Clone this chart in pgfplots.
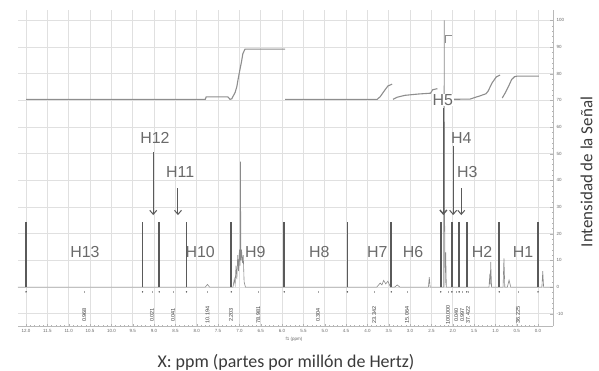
\documentclass[border=0pt]{standalone}
\usepackage{fontspec}
\setmainfont{Liberation Sans}
\newfontfamily\calfont{Carlito}
\usepackage{pgfplots}
\pgfplotsset{compat=1.18}
\usetikzlibrary{arrows.meta}
\definecolor{gridc}{HTML}{E0E0E0}
\definecolor{specc}{HTML}{8A8A8A}
\definecolor{markc}{HTML}{5A5A5A}
\definecolor{intc}{HTML}{8E8E8E}
\definecolor{labc}{HTML}{6A6A6A}
\definecolor{txtc}{HTML}{3A3A3A}
\begin{document}
\begin{tikzpicture}
\begin{axis}[
  scale only axis, width=535bp, height=316bp,
  x dir=reverse, xmin=-0.35, xmax=12.19, ymin=-14.6, ymax=103.9,
  axis x line*=bottom, axis y line*=right,
  axis line style={draw=gray!55, line width=0.5pt, -},
  xtick={0,0.5,...,12}, ytick={-10,0,...,100},
  minor x tick num=4, minor y tick num=4,
  major tick length=2.5bp, minor tick length=1.2bp,
  tick style={gray!60, line width=0.4pt},
  grid=major, major grid style={gridc, line width=0.6pt},
  /pgf/number format/assume math mode=true,
  xticklabel style={font=\fontsize{4.5}{5}\selectfont, text=gray!80!black,
    /pgf/number format/.cd, fixed, fixed zerofill, precision=1},
  yticklabel style={font=\fontsize{4.5}{5}\selectfont, text=gray!80!black},
  clip=false,
]
% spectrum
\addplot[specc, line width=0.6bp] coordinates {
 (12.19,0) (7.80,0) (7.75,1.0) (7.70,0)
 (7.15,0) (7.12,3) (7.10,1) (7.08,8) (7.06,3) (7.04,12) (7.02,6) (7.00,14) (6.985,8) (6.975,47) (6.965,10) (6.95,14) (6.93,9) (6.91,12) (6.89,2) (6.86,0)
 (3.78,0) (3.70,1.5) (3.66,0.8) (3.62,2.5) (3.57,1.2) (3.52,2.2) (3.46,0)
 (3.36,0) (3.30,0.8) (3.24,0)
 (2.57,0) (2.55,3.7) (2.53,0)
 (2.215,0) (2.20,100) (2.185,0) (2.165,13) (2.15,0)
 (1.15,0) (1.13,5) (1.12,1) (1.11,9.4) (1.09,0)
 (0.82,0) (0.80,10.8) (0.78,0) (0.72,0) (0.68,2.6) (0.64,0)
 (-0.09,0) (-0.11,6) (-0.13,0) (-0.35,0)
};
% integration region markers
\addplot[markc, line width=1.7bp, ycomb] coordinates {
 (12.0,24.4) (9.27,24.4) (8.88,24.4) (8.24,24.4) (7.19,24.4) (5.95,24.4)
 (4.47,24.4) (3.44,24.4) (2.28,24.4) (2.02,24.4) (1.85,24.4) (1.67,24.4)
 (0.91,24.4) (0.0,24.4)
};
\addplot[only marks, mark=*, mark size=0.5bp, markc] coordinates {
 (12.0,-1.8) (9.27,-1.8) (8.88,-1.8) (8.24,-1.8) (7.19,-1.8) (5.95,-1.8)
 (4.47,-1.8) (3.44,-1.8) (2.28,-1.8) (2.02,-1.8) (1.85,-1.8) (1.67,-1.8)
 (0.91,-1.8) (0.0,-1.8)
};
\addplot[only marks, mark=|, mark size=1bp, gray!70] coordinates {
 (10.64,-1.8) (9.05,-1.8) (8.56,-1.8) (7.75,-1.8) (6.56,-1.8) (5.16,-1.8)
 (3.84,-1.8) (3.07,-1.8) (2.11,-1.8) (1.92,-1.8) (1.78,-1.8) (1.64,-1.8) (0.47,-1.8)
};
% integral curves
\addplot[intc, line width=1.1bp] coordinates {
 (12.0,70.4) (7.80,70.4) (7.78,71.3) (7.27,71.3) (7.22,70.4) (7.18,70.6) (7.10,73) (7.06,75.2) (7.03,78) (6.99,81.4) (6.95,84.6) (6.92,87.5) (6.87,89.2) (5.93,89.2)};
\addplot[intc, line width=1.1bp] coordinates {
 (5.93,70.4) (3.77,70.4) (3.70,71.4) (3.59,73.9) (3.52,75.4) (3.42,76.1)};
\addplot[intc, line width=1.1bp] coordinates {
 (3.40,70.4) (3.30,71.2) (3.12,71.9) (2.80,72.4) (2.52,72.7) (2.47,74.0) (2.36,74.4)};
\addplot[intc, line width=1.1bp] coordinates {
 (2.16,91.5) (2.16,94.5) (2.02,94.5)};
\addplot[intc, line width=1.1bp] coordinates {
 (2.05,70.4) (1.59,70.5) (1.48,71.1) (1.36,71.7) (1.22,72.5) (1.17,73.5) (1.08,76.5) (0.98,78.8) (0.89,79.5)};
\addplot[intc, line width=1.1bp] coordinates {
 (0.84,70.9) (0.77,72.8) (0.70,75) (0.62,77.8) (0.55,78.9) (0.49,79.1) (-0.02,79.1)};
% arrows
\addplot[markc, line width=1bp, -{Straight Barb[length=4bp,width=7bp]}] coordinates {(9.02,50.6) (9.02,27)};
\addplot[markc, line width=1bp, -{Straight Barb[length=4bp,width=7bp]}] coordinates {(8.44,37) (8.44,27)};
\addplot[markc, line width=1.4bp, -{Straight Barb[length=4bp,width=7bp]}] coordinates {(2.22,67) (2.22,27)};
\addplot[markc, line width=1bp, -{Straight Barb[length=4bp,width=7bp]}] coordinates {(1.99,53) (1.99,27)};
\addplot[markc, line width=1bp, -{Straight Barb[length=4bp,width=7bp]}] coordinates {(1.80,37) (1.80,27)};
% H labels
\begin{scope}[every node/.style={text=labc, font=\fontsize{16}{16}\selectfont, inner sep=0.5bp}]
\node at (axis cs:10.62,13.1) {H13};
\node at (axis cs:8.98,56) {H12};
\node at (axis cs:8.39,43) {H11};
\node at (axis cs:7.92,13.1) {H10};
\node at (axis cs:6.63,13.1) {H9};
\node at (axis cs:5.13,13.1) {H8};
\node at (axis cs:3.77,13.1) {H7};
\node at (axis cs:2.93,13.1) {H6};
\node[fill=white] at (axis cs:2.23,70) {H5};
\node at (axis cs:1.80,56) {H4};
\node at (axis cs:1.66,43) {H3};
\node at (axis cs:1.31,13.1) {H2};
\node at (axis cs:0.35,13.1) {H1};
\end{scope}
% integral values
\begin{scope}[every node/.style={rotate=90, text=txtc, font=\fontsize{5.5}{6}\selectfont, inner sep=0pt}]
\node at (axis cs:10.64,-10.5) {0.968};
\node at (axis cs:9.05,-10.5) {0.021};
\node at (axis cs:8.56,-10.5) {0.041};
\node at (axis cs:7.75,-10.5) {10.194};
\node at (axis cs:7.20,-10.5) {2.203};
\node at (axis cs:6.56,-10.5) {78.981};
\node at (axis cs:5.16,-10.5) {0.304};
\node at (axis cs:3.84,-10.5) {23.342};
\node at (axis cs:3.07,-10.5) {15.064};
\node at (axis cs:2.11,-10.5) {100.000};
\node at (axis cs:1.92,-10.5) {0.040};
\node at (axis cs:1.78,-10.5) {0.997};
\node at (axis cs:1.64,-10.5) {37.422};
\node at (axis cs:0.47,-10.5) {36.225};
\end{scope}
\node[font=\fontsize{4.5}{5}\selectfont, text=gray!80!black, anchor=north] at (axis cs:5.72,-14.6) [yshift=-8bp] {f1 (ppm)};
\end{axis}
\node[font=\calfont\fontsize{18}{18}\selectfont, text=txtc, anchor=base] at (268bp,-41bp) {X: ppm (partes por millón de Hertz)};
\node[font=\calfont\fontsize{17}{17}\selectfont, text=txtc, rotate=90, anchor=south] at (578bp,154bp) {Intensidad de la Señal};
\pgfresetboundingbox
\path (-18bp,-45bp) rectangle (581bp,326bp);
\end{tikzpicture}
\end{document}
